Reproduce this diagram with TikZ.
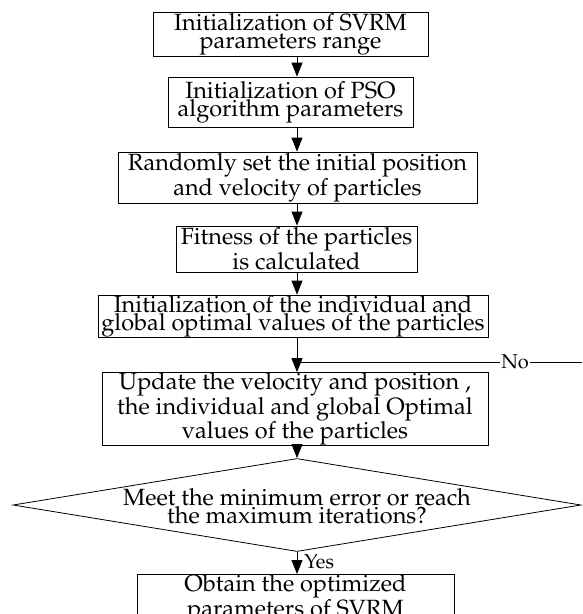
\documentclass[tikz,border=0pt]{standalone}
\usepackage[T1]{fontenc}
\usepackage{mathpazo}
\usetikzlibrary{shapes.geometric,arrows.meta}
\tikzset{
  txt/.style={inner sep=0pt, align=center, font=\fontsize{23.5}{18}\selectfont},
  stepbox/.style={txt, draw, line width=0.8pt},
  arr/.style={line width=0.8pt, -{Triangle[length=14pt,width=11pt]}},
  plain/.style={line width=0.8pt},
  lab/.style={inner sep=1pt},
}
\newcommand{\labfont}{\fontsize{20}{20}\selectfont}
\begin{document}
\begin{tikzpicture}[x=1pt,y=-1pt]
\clip (0,0) rectangle (582,614);
\coordinate (X) at (297,0);
\node[stepbox, minimum width=275pt, minimum height=44pt] (b1) at (290.5,34) {Initialization of SVRM\\parameters range};
\node[stepbox, minimum width=245pt, minimum height=50pt] (b2) at (290.5,102) {Initialization of PSO\\algorithm parameters};
\node[stepbox, minimum width=359pt, minimum height=51pt] (b3) at (297.5,177.5) {Randomly set the initial position\\and velocity of particles};
\node[stepbox, minimum width=241pt, minimum height=46pt] (b4) at (296.5,249) {Fitness of the particles\\is calculated};
\node[stepbox, minimum width=390pt, minimum height=42pt] (b5) at (293,316) {Initialization of the individual and\\global optimal values of the particles};
\node[stepbox, minimum width=386pt, minimum height=62pt] (b6) at (295,409) {Update the velocity and position ,\\the individual and global Optimal\\values of the particles};
\node[draw, line width=0.8pt, diamond, aspect=6.1, inner sep=0pt, minimum width=568pt, minimum height=93pt] (d) at (297,505) {};
\node[txt] (dt) at (297,506) {Meet the minimum error or reach\\the maximum iterations?};
\node[stepbox, minimum width=317pt, minimum height=60pt, anchor=north] (b7) at (295.5,574) {Obtain the optimized\\parameters of SVRM\\[13pt]};
\coordinate (J) at (297,362);
\coordinate (E) at (582,362);
\draw[arr] (b1.south -| X) -- (b2.north -| X);
\draw[arr] (b2.south -| X) -- (b3.north -| X);
\draw[arr] (b3.south -| X) -- (b4.north -| X);
\draw[arr] (b4.south -| X) -- (b5.north -| X);
\draw[arr] (b5.south -| X) -- (b6.north -| X);
\draw[arr] (b6.south -| X) -- (d.north);
\draw[arr] (d.south) -- node[lab, right, pos=0.45, xshift=6pt] {\labfont Yes} (b7.north -| d.south);
\draw[plain] (E) -- node[lab, fill=white, pos=0.235] {\labfont No} (J);
\end{tikzpicture}
\end{document}
